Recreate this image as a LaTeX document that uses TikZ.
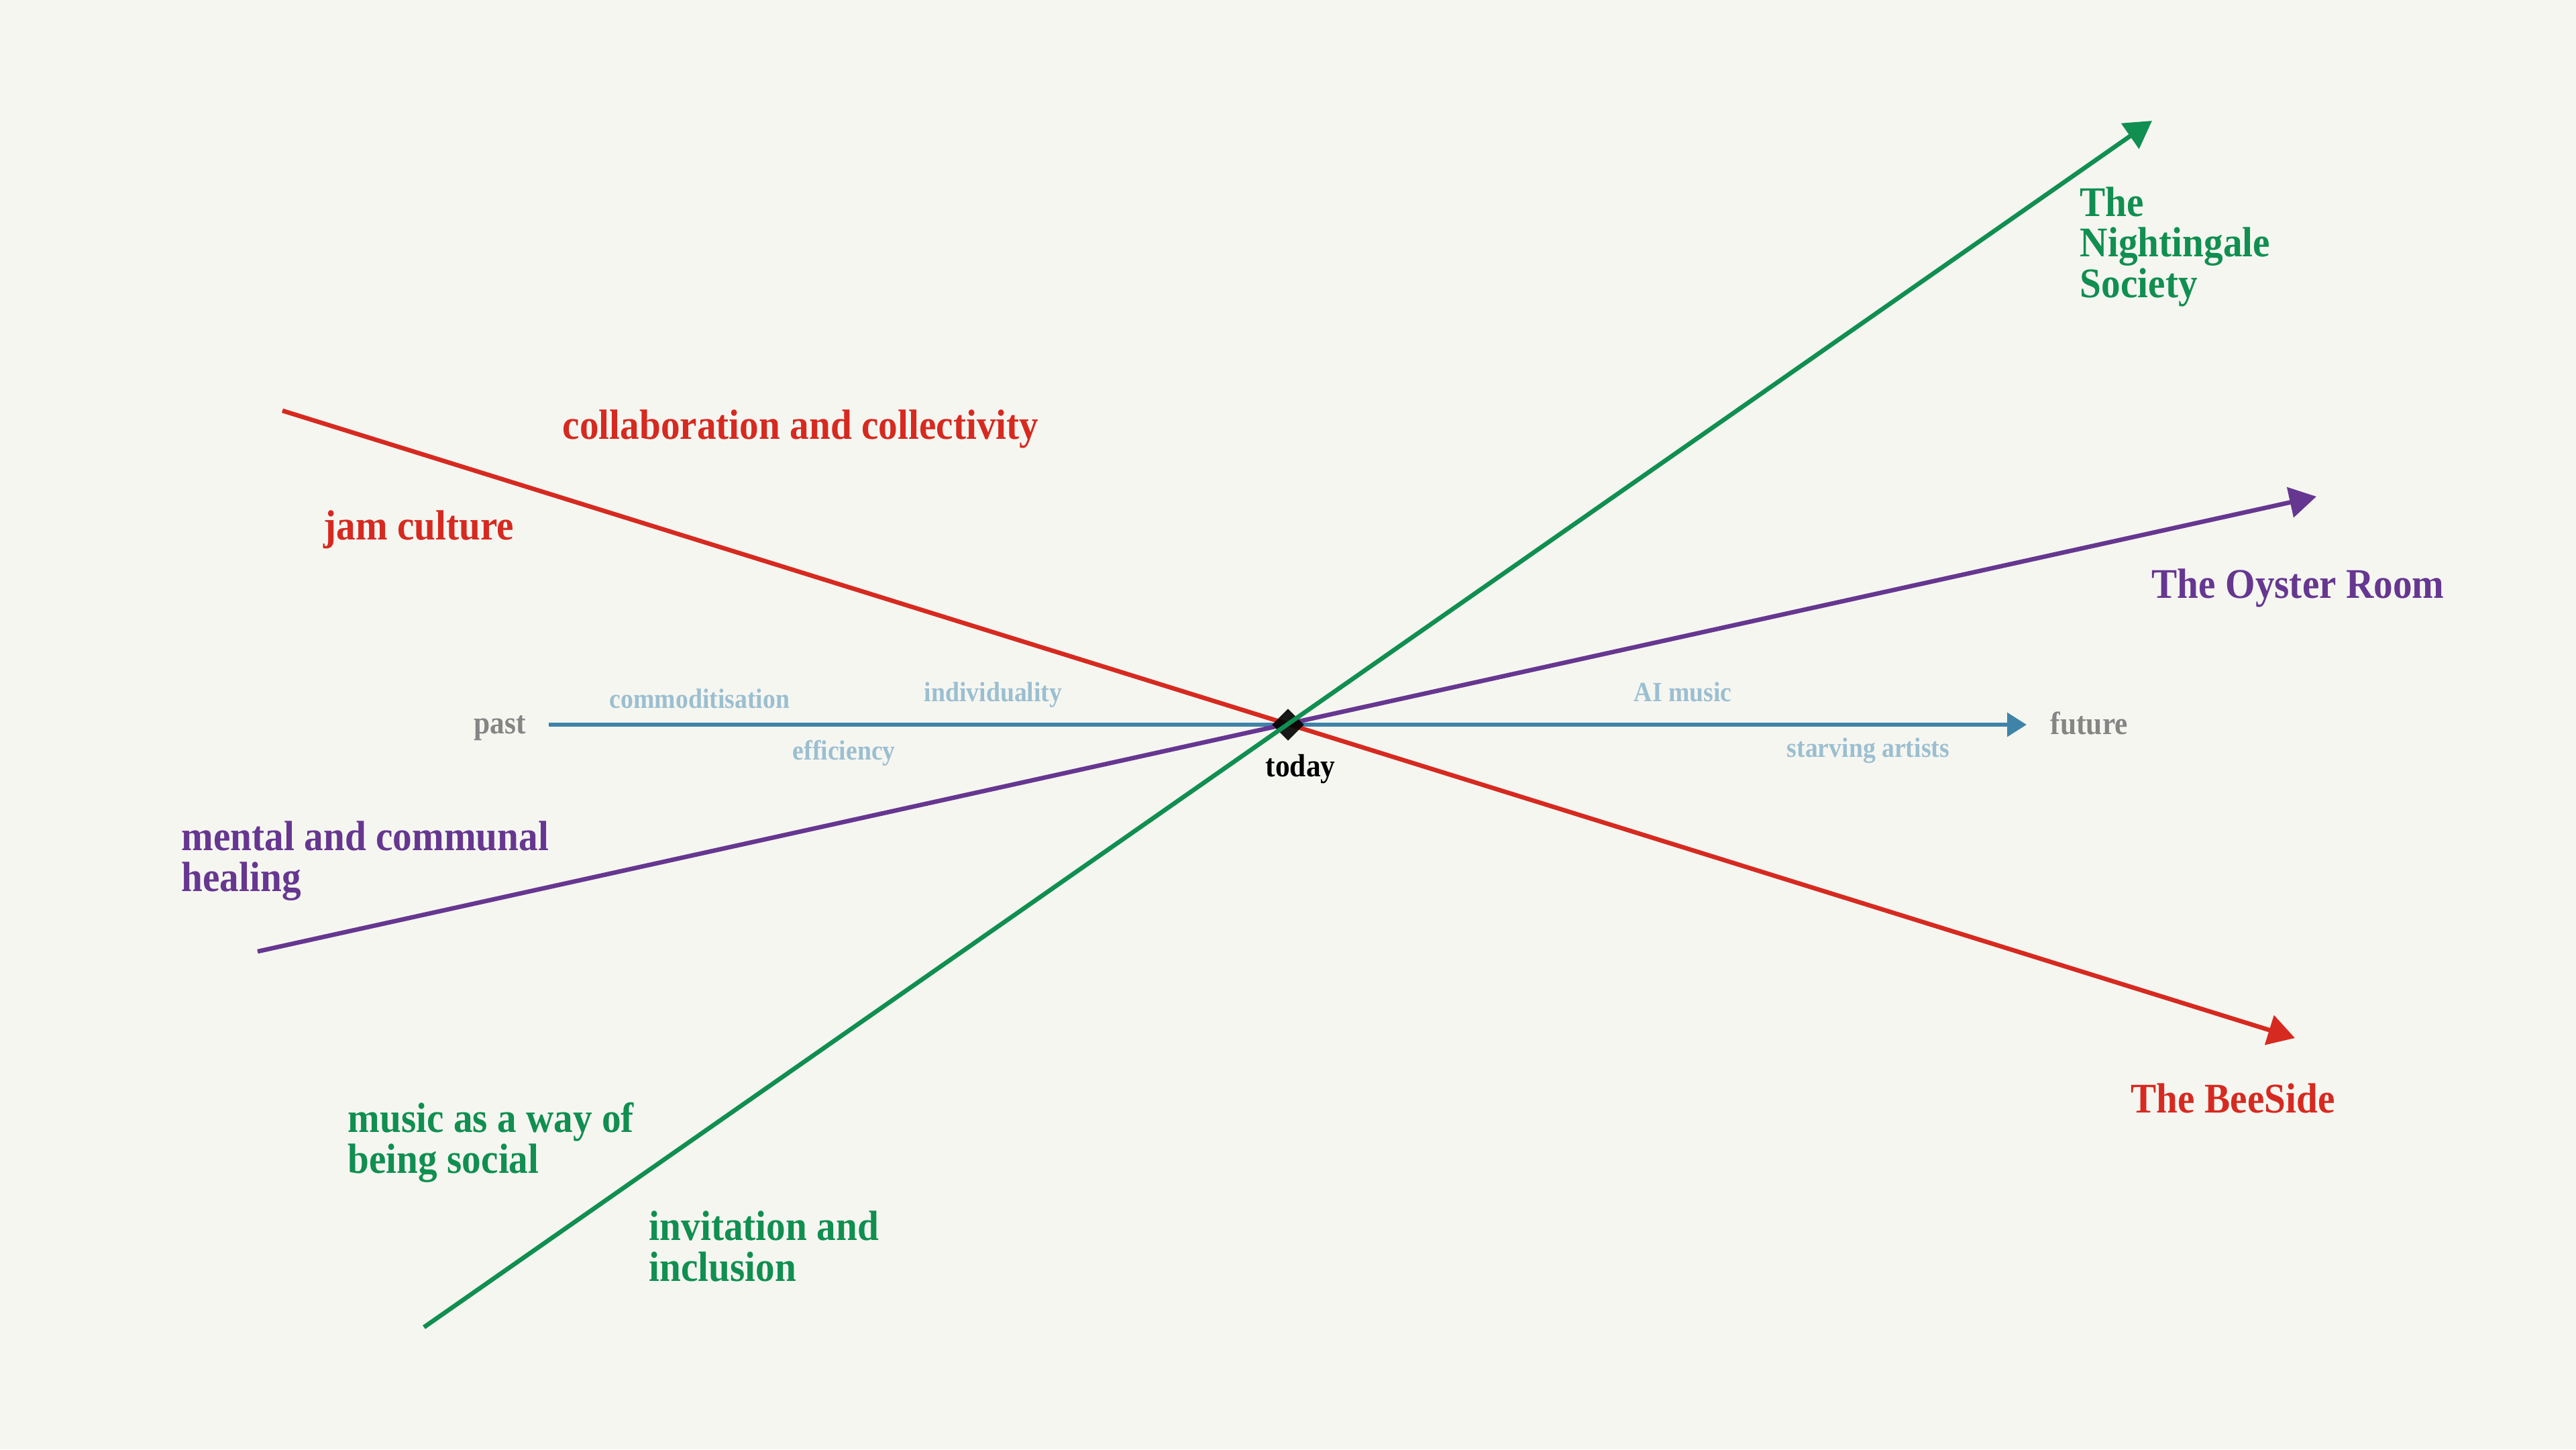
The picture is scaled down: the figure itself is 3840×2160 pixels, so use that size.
\documentclass[tikz,border=0pt]{standalone}
\usepackage{fontspec}
\newfontfamily\lbl{Liberation Serif Bold}[FakeStretch=0.91]
\usetikzlibrary{arrows.meta,shapes.geometric}
\definecolor{bg}{HTML}{F6F6F1}
\definecolor{cred}{HTML}{D62A20}
\definecolor{cgreen}{HTML}{108F50}
\definecolor{cpurple}{HTML}{663790}
\definecolor{cblue}{HTML}{3F84A8}
\definecolor{clight}{HTML}{9BBFD0}
\definecolor{cgray}{HTML}{858585}
\begin{document}
\begin{tikzpicture}[x=0.01cm,y=-0.01cm,
  trend/.style={line width=0.066cm, -{Triangle[length=0.40cm,width=0.45cm]}},
  axis/.style={line width=0.06cm, cblue, -{Triangle[length=0.29cm,width=0.35cm]}},
  big/.style={font=\lbl\fontsize{17.9}{17.1}\selectfont, inner sep=0, anchor=base west, align=left},
  small/.style={font=\lbl\fontsize{11.8}{14}\selectfont, text=clight, inner sep=0, anchor=base west},
  mid/.style={font=\lbl\fontsize{13.6}{16}\selectfont, inner sep=0, anchor=base west},
  marker/.style={diamond, fill=black, minimum size=0.48cm, inner sep=0, opacity=0.9}]

\fill[bg] (0,0) rectangle (3840,2160);
\useasboundingbox (0,0) rectangle (3840,2160);

% end points
\coordinate (center) at (1920,1080);
\coordinate (axisS) at (818,1080);
\coordinate (axisE) at (3021,1080);
\coordinate (redS) at (421,612);
\coordinate (redE) at (3421,1547);
\coordinate (purS) at (384,1418);
\coordinate (purE) at (3453,740);
\coordinate (grnS) at (632,1978);
\coordinate (grnE) at (3208,180);

% lines
\draw[axis] (axisS) -- (axisE);
\draw[trend, cred] (redS) -- (redE);
\draw[trend, cpurple] (purS) -- (purE);
\node[marker] (mark) at (center) {};
\draw[trend, cgreen] (grnS) -- (grnE);

% axis labels
\node[mid, text=cgray] (past) at (706,1093) {past};
\node[mid, text=cgray] (future) at (3056,1094) {future};
\node[mid, text=black] (today) at (1886,1157) {today};
\node[small] (commod) at (908,1055) {commoditisation};
\node[small] (indiv) at (1377,1045) {individuality};
\node[small] (effic) at (1181,1132) {efficiency};
\node[small] (aimusic) at (2435,1045) {AI music};
\node[small] (starving) at (2663,1128) {starving artists};

% trend labels (base = baseline of last line)
\node[big, text=cgreen] (night) at (3100,443) {The\\Nightingale\\Society};
\node[big, text=cpurple] (oyster) at (3207,891) {The Oyster Room};
\node[big, text=cred] (bee) at (3176,1658) {The BeeSide};
\node[big, text=cred] (collab) at (838,654) {collaboration and collectivity};
\node[big, text=cred] (jam) at (482,804) {jam culture};
\node[big, text=cpurple] (mental) at (270,1328) {mental and communal\\healing};
\node[big, text=cgreen] (music) at (518,1748) {music as a way of\\being social};
\node[big, text=cgreen] (invit) at (967,1909) {invitation and\\inclusion};
\end{tikzpicture}
\end{document}
